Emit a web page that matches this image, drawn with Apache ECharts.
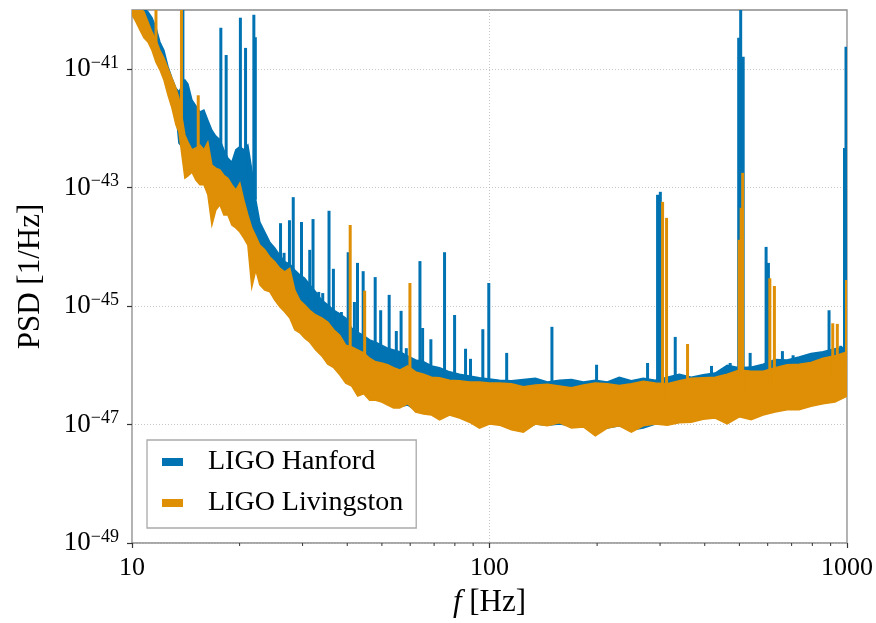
<!DOCTYPE html>
<html><head><meta charset="utf-8">
<script src="https://cdn.jsdelivr.net/npm/echarts@6/dist/echarts.min.js"></script>
<style>html,body{margin:0;padding:0;background:#fff}#c{width:876px;height:623px}</style>
</head><body><div id="c"></div>
<script>
// Frequencies (Hz) at which the noise band edges were read
const freq = [10.00,10.26,10.53,10.80,11.08,11.37,11.67,11.97,12.28,12.60,12.93,13.27,13.53,
14.06,14.34,14.71,15.09,15.49,15.89,16.30,16.73,17.16,17.61,18.07,18.54,19.02,19.52,20.03,20.55,21.09,21.63,22.20,22.78,
23.52,24.29,25.08,25.90,26.75,27.63,28.53,29.46,30.43,31.42,
32.66,33.94,35.28,36.67,38.11,39.61,41.17,42.79,44.47,46.22,48.04,49.93,51.89,53.94,56.06,
59.02,62.13,65.41,68.87,72.50,
77.31,82.45,87.92,93.75,100.0,106.6,
115.2,124.4,134.4,145.2,156.9,169.5,183.1,197.7,213.6,230.7,249.3,269.3,290.9,314.2,339.4,366.6,396.1,427.8,462.2,499.9,539.3,582.6,629.3,679.8,734.4,793.3,856.9,925.7,1000];

// log10 PSD [1/Hz] : upper and lower edge of each detector's noise band
const hanfordUpper = [-39.75,-39.80,-39.88,-39.97,-40.03,-40.13,-40.30,-40.54,-40.68,-40.95,-41.15,-41.32,-41.38,
-41.18,-41.25,-41.52,-41.62,-41.72,-41.69,-41.86,-42.03,-42.13,-42.19,-42.36,-42.50,-42.57,-42.36,-42.31,-42.36,-42.28,-42.70,-43.21,-43.58,
-43.75,-43.92,-44.02,-44.14,-44.25,-44.29,-44.39,-44.47,-44.53,-44.64,
-44.76,-44.90,-44.98,-45.07,-45.13,-45.20,-45.37,-45.44,-45.50,-45.57,-45.61,-45.66,-45.71,-45.74,-45.77,
-45.84,-45.91,-45.94,-46.01,-46.04,
-46.11,-46.15,-46.18,-46.21,-46.23,-46.25,
-46.26,-46.24,-46.22,-46.28,-46.25,-46.24,-46.28,-46.25,-46.28,-46.20,-46.26,-46.22,-46.25,-46.20,-46.15,-46.20,-46.16,-46.13,-46.00,-46.04,-46.03,-45.98,-45.90,-45.91,-45.86,-45.80,-45.77,-45.72,-45.69];
const hanfordLower = [-40.03,-40.10,-40.24,-40.34,-40.47,-40.61,-40.76,-40.91,-41.05,-41.32,-41.49,-41.72,-42.25,
-42.36,-42.50,-42.62,-42.70,-42.74,-42.80,-42.95,-43.12,-43.17,-43.24,-43.31,-43.41,-43.55,-43.63,-43.68,-43.78,-43.88,-43.97,-44.09,-44.25,
-44.42,-44.59,-44.73,-44.83,-44.93,-45.03,-45.17,-45.27,-45.37,-45.47,
-45.57,-45.67,-45.77,-45.88,-45.99,-46.11,-46.21,-46.33,-46.42,-46.48,-46.52,-46.57,-46.62,-46.67,-46.70,
-46.67,-46.75,-46.79,-46.82,-46.89,
-46.82,-46.87,-46.92,-47.01,-46.96,-46.99,
-47.06,-47.09,-46.99,-47.01,-46.99,-47.02,-47.01,-47.09,-47.06,-47.02,-47.09,-47.06,-46.99,-46.99,-46.96,-46.94,-46.89,-46.89,-46.92,-46.86,-46.89,-46.82,-46.77,-46.74,-46.72,-46.67,-46.64,-46.59,-46.50];
const livingstonUpper = [-39.75,-39.86,-39.97,-40.03,-40.20,-40.37,-40.51,-40.68,-40.81,-40.98,-41.15,-41.32,-41.49,
-42.11,-42.23,-42.36,-42.33,-42.28,-42.36,-42.23,-42.62,-42.67,-42.70,-42.79,-42.84,-42.95,-43.04,-42.92,-43.21,-43.46,-43.68,-43.82,-43.97,
-44.05,-44.17,-44.25,-44.36,-44.42,-44.36,-44.73,-44.90,-44.98,-45.07,
-45.15,-45.20,-45.27,-45.40,-45.49,-45.66,-45.69,-45.74,-45.79,-45.88,-45.94,-45.96,-45.99,-46.04,-46.08,
-46.01,-46.11,-46.15,-46.20,-46.21,
-46.25,-46.26,-46.28,-46.28,-46.30,-46.30,
-46.31,-46.36,-46.33,-46.32,-46.35,-46.38,-46.33,-46.30,-46.31,-46.34,-46.31,-46.27,-46.30,-46.31,-46.26,-46.22,-46.21,-46.20,-46.15,-46.08,-46.10,-46.10,-46.04,-45.99,-45.98,-45.95,-45.88,-45.84,-45.77];
const livingstonLower = [-40.08,-40.20,-40.34,-40.47,-40.54,-40.68,-40.88,-41.01,-41.18,-41.43,-41.65,-41.94,-42.06,
-42.84,-42.80,-42.74,-42.87,-42.95,-42.95,-43.12,-43.63,-43.38,-43.29,-43.46,-43.46,-43.63,-43.68,-43.75,-43.85,-43.97,-44.68,-44.39,-44.64,
-44.73,-44.76,-44.90,-45.01,-45.10,-45.20,-45.40,-45.45,-45.54,-45.61,
-45.74,-45.84,-45.98,-46.04,-46.16,-46.30,-46.35,-46.52,-46.48,-46.59,-46.59,-46.62,-46.67,-46.72,-46.72,
-46.65,-46.79,-46.82,-46.84,-46.92,
-46.84,-46.89,-46.96,-47.06,-46.99,-47.01,
-47.09,-47.13,-46.99,-47.02,-46.97,-47.06,-47.04,-47.19,-47.06,-47.02,-47.13,-47.02,-46.99,-47.01,-46.97,-46.96,-46.91,-46.89,-46.99,-46.87,-46.92,-46.84,-46.79,-46.75,-46.75,-46.69,-46.65,-46.62,-46.52];

// Narrow spectral lines: frequency (Hz), peak log10 PSD, foot log10 PSD
const hanfordLineFreq = [13.88,17.72,18.34,20.10,20.78,21.92,22.13,26.03,26.63,27.57,28.25,29.79,31.42,32.09,33.29,34.16,35.57,36.59,37.45,38.52,
40.24,41.89,42.73,44.32,47.89,49.61,52.40,54.87,56.58,58.51,63.89,65.00,68.55,74.86,79.86,85.70,88.49,95.79,99.54,
111.7,149.5,199.3,276.8,295.2,300.5,330.8,417.8,471.2,497.8,504.2,512.4,535.9,593.9,602.8,659.7,706.7,890.8,960.3,984.0,993.6];
const hanfordLineTop = [-39.5,-40.30,-40.76,-40.13,-40.64,-40.08,-40.46,-43.60,-44.10,-43.55,-43.16,-43.58,-44.05,-43.53,-44.76,-44.78,-43.39,-44.37,-45.10,-45.10,
-44.09,-44.93,-44.27,-44.41,-44.51,-45.07,-44.81,-45.42,-45.08,-45.71,-44.24,-45.37,-45.56,-44.09,-45.15,-45.72,-45.89,-45.39,-44.61,
-45.79,-45.35,-45.99,-45.96,-43.12,-43.07,-45.52,-46.01,-45.96,-40.47,-39.5,-40.79,-45.79,-44.00,-44.27,-45.76,-45.83,-45.07,-45.67,-42.33,-40.62];
const hanfordLineFoot = [-42.0,-42.5,-42.6,-42.8,-42.9,-43.0,-43.2,-44.5,-44.6,-44.7,-44.8,-44.9,-45.0,-45.1,-45.2,-45.3,-45.4,-45.5,-45.6,-45.6,
-45.8,-45.9,-45.9,-46.0,-46.1,-46.2,-46.2,-46.3,-46.3,-46.3,-46.4,-46.4,-46.4,-46.5,-46.5,-46.5,-46.5,-46.6,-46.6,
-46.6,-46.6,-46.6,-46.6,-46.6,-46.6,-46.6,-46.5,-46.5,-46.5,-46.5,-46.5,-46.4,-46.4,-46.4,-46.3,-46.3,-46.2,-46.1,-46.1,-46.1];
const livingstonLineFreq = [11.67,13.75,15.32,40.77,44.75,59.90,304.9,312.8,358.1,499.4,505.8,510.7,608.3,626.5,912.2,939.5,996.8];
const livingstonLineTop = [-39.5,-39.5,-41.44,-43.63,-44.74,-44.61,-43.24,-43.51,-45.64,-43.88,-43.34,-42.75,-44.53,-44.66,-45.29,-45.30,-44.56];
const livingstonLineFoot = [-40.7,-42.0,-42.5,-45.9,-46.1,-46.3,-46.6,-46.6,-46.6,-46.5,-46.5,-46.5,-46.4,-46.4,-46.2,-46.2,-46.2];

const yTickExponents = [-49,-47,-45,-43,-41];
const xMinorTicks = [20,30,40,50,60,70,80,90,200,300,400,500,600,700,800,900];

const BLUE = '#0173B2', ORANGE = '#DE8F05';
const SERIF = "'Liberation Serif','DejaVu Serif',serif";

function detectorRenderer(upper, lower, lf, lt, lb, color) {
  return function (params, api) {
    const cs = params.coordSys;
    const pts = [];
    for (let i = 0; i < freq.length; i++) pts.push(api.coord([freq[i], upper[i]]));
    for (let i = freq.length - 1; i >= 0; i--) pts.push(api.coord([freq[i], lower[i]]));
    const children = [{
      type: 'polygon', shape: { points: pts },
      style: { fill: color, stroke: color, lineWidth: 1.5, lineJoin: 'miter' }
    }];
    for (let k = 0; k < lf.length; k++) {
      const a = api.coord([lf[k], lb[k]]);
      const b = api.coord([lf[k], lt[k]]);
      children.push({ type: 'line', shape: { x1: a[0], y1: a[1], x2: b[0], y2: b[1] },
        style: { stroke: color, lineWidth: 3 } });
    }
    return { type: 'group',
      clipPath: { type: 'rect', shape: { x: cs.x, y: cs.y, width: cs.width, height: cs.height } },
      children: children };
  };
}

const chart = echarts.init(document.getElementById('c'), null, { renderer: 'canvas' });
chart.setOption({
  animation: false,
  backgroundColor: '#fff',
  grid: { left: 132, right: 28, top: 10, bottom: 80, show: true, borderColor: '#8a8a8a', borderWidth: 1.3, backgroundColor: 'transparent' },
  xAxis: {
    type: 'log', logBase: 10, min: 10, max: 1000,
    name: '{i|f} [Hz]', nameLocation: 'middle', nameGap: 44,
    nameTextStyle: { fontFamily: SERIF, fontSize: 31, color: '#000',
      rich: { i: { fontFamily: SERIF, fontStyle: 'italic', fontSize: 31, color: '#000' } } },
    axisLine: { show: false },
    axisTick: { show: true, length: 5, lineStyle: { color: '#333', width: 1.2 } },
    axisLabel: { margin: 12, fontFamily: SERIF, fontSize: 26, color: '#000', formatter: v => String(Math.round(v)) },
    splitLine: { show: true, lineStyle: { color: '#b8b8b8', type: [1, 2], width: 0.8 } },
    minorTick: { show: false }
  },
  yAxis: {
    type: 'value', min: -49, max: -40, interval: 2,
    name: 'PSD [1/Hz]', nameLocation: 'middle', nameGap: 86,
    nameTextStyle: { fontFamily: SERIF, fontSize: 31, color: '#000' },
    axisLine: { show: false },
    axisTick: { show: true, length: 5, lineStyle: { color: '#333', width: 1.2 }, customValues: yTickExponents },
    axisLabel: {
      margin: 13, customValues: yTickExponents,
      formatter: v => '{b|10}{s|\u2212' + Math.abs(Math.round(v)) + '}',
      rich: {
        b: { fontFamily: SERIF, fontSize: 27, color: '#000', lineHeight: 30 },
        s: { fontFamily: SERIF, fontSize: 18, color: '#000', lineHeight: 18, verticalAlign: 'top' }
      }
    },
    splitLine: { show: true, lineStyle: { color: '#b8b8b8', type: [1, 2], width: 0.8 } }
  },
  legend: {
    show: true, orient: 'vertical', left: 147, top: 440,
    data: ['LIGO Hanford', 'LIGO Livingston'],
    icon: 'rect', itemWidth: 21, itemHeight: 8, itemGap: 11,
    padding: [7, 13, 10, 15],
    backgroundColor: '#fff', borderColor: '#aaa', borderWidth: 1.3, borderRadius: 0,
    textStyle: { fontFamily: SERIF, fontSize: 28, color: '#000', lineHeight: 30, padding: [0, 0, 0, 20] }
  },
  series: [
    { type: 'custom', name: 'LIGO Hanford', coordinateSystem: 'cartesian2d', itemStyle: { color: BLUE },
      data: [[freq[0], hanfordLower[0]]],
      renderItem: detectorRenderer(hanfordUpper, hanfordLower, hanfordLineFreq, hanfordLineTop, hanfordLineFoot, BLUE) },
    { type: 'custom', name: 'LIGO Livingston', coordinateSystem: 'cartesian2d', itemStyle: { color: ORANGE },
      data: [[freq[0], livingstonLower[0]]],
      renderItem: detectorRenderer(livingstonUpper, livingstonLower, livingstonLineFreq, livingstonLineTop, livingstonLineFoot, ORANGE) },
    { type: 'custom', name: 'minor ticks', coordinateSystem: 'cartesian2d', silent: true,
      data: xMinorTicks.map(v => [v, -49]),
      renderItem: function (params, api) {
        const p = api.coord([api.value(0), api.value(1)]);
        return { type: 'line', shape: { x1: p[0], y1: p[1], x2: p[0], y2: p[1] + 3 },
          style: { stroke: '#333', lineWidth: 1 } };
      } }
  ]
});
</script>
</body></html>
